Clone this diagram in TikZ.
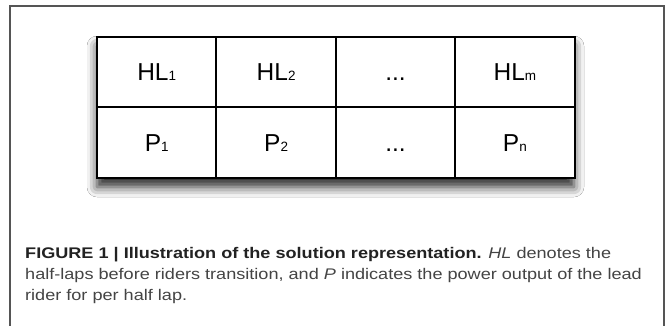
\documentclass[tikz,border=0pt]{standalone}
\usepackage{fontspec}
\setmainfont{Liberation Sans}
\newfontfamily\capfont[FakeStretch=1.175]{Liberation Sans}
\usetikzlibrary{shadows.blur}
\definecolor{framegray}{HTML}{555555}
\definecolor{captext}{HTML}{444444}
\definecolor{capbold}{HTML}{222222}
\newcommand{\bigt}[2]{{\fontsize{24.5}{28}\selectfont #1{\fontsize{13.5}{16}\selectfont #2}}}
\tikzset{
  cell/.style={draw=black, line width=2pt, minimum width=119.4pt, minimum height=70.5pt,
    inner sep=0pt, text height=17.5pt, text depth=0pt, anchor=center},
  capline/.style={anchor=base west, inner sep=0pt, text=captext, font=\capfont\fontsize{15.4}{20}\selectfont},
}
\begin{document}
\begin{tikzpicture}[x=1pt,y=-1pt]
\useasboundingbox[fill=white] (0,0) rectangle (665,325);
\draw[framegray, line width=1.2pt] (10,330) -- (10,6) -- (664,6) -- (664,330);
\path[fill=white, blur shadow={shadow xshift=0pt, shadow yshift=-9pt, shadow blur radius=10pt, shadow opacity=85}] (97,37) rectangle (574,178);
\node[cell] (h1) at (156.7,72) {\bigt{HL}{1}};
\node[cell] (h2) at (276.1,72) {\bigt{HL}{2}};
\node[cell] (h3) at (395.5,72) {\bigt{...}{}};
\node[cell] (h4) at (514.9,72) {\bigt{HL}{m}};
\node[cell] (p1) at (156.7,142.5) {\bigt{P}{1}};
\node[cell] (p2) at (276.1,142.5) {\bigt{P}{2}};
\node[cell] (p3) at (395.5,142.5) {\bigt{...}{}};
\node[cell] (p4) at (514.9,142.5) {\bigt{P}{n}};
\node[capline] (c1) at (25,258) {{\color{capbold}\bfseries FIGURE 1 | Illustration of the solution representation.} \textit{HL} denotes the};
\node[capline] (c2) at (25,279) {half-laps before riders transition, and \textit{P} indicates the power output of the lead};
\node[capline] (c3) at (25,300) {rider for per half lap.};
\end{tikzpicture}
\end{document}
